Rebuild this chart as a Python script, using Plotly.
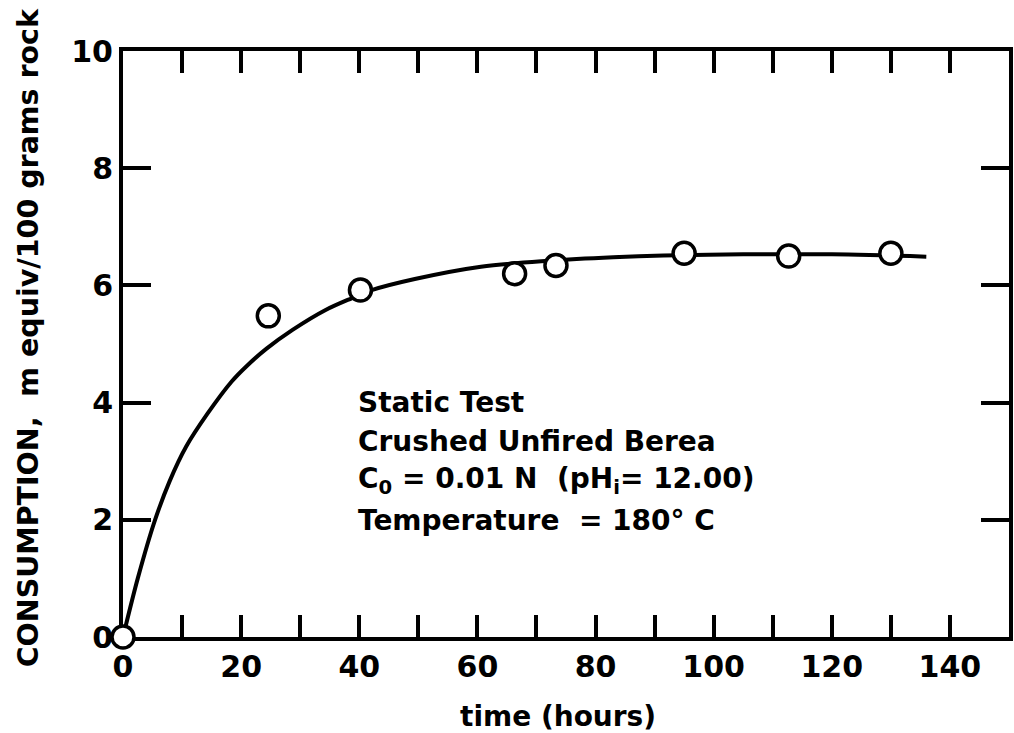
import plotly.graph_objects as go

# measured points (hours, m equiv / 100 g rock)
hours = [0, 24.6, 40.2, 66.3, 73.3, 95, 112.7, 130]
consumption = [0, 5.48, 5.92, 6.20, 6.34, 6.55, 6.50, 6.55]

# hand-drawn fitted curve
curve_hours = [0, 2.5, 5.4, 7.9, 10.7, 14.3, 18.4, 21, 24.3, 28.7, 34.3,
               38.7, 42.1, 49.4, 60.6, 72, 83, 91.5, 105, 120, 136]
curve_values = [0, 1.0, 1.99, 2.66, 3.25, 3.81, 4.36, 4.63, 4.92, 5.24, 5.58,
                5.78, 5.92, 6.11, 6.32, 6.42, 6.48, 6.51, 6.53, 6.53, 6.49]

x_major = [0, 20, 40, 60, 80, 100, 120, 140]
x_minor = [10, 30, 50, 70, 90, 110, 130]
y_ticks = [0, 2, 4, 6, 8, 10]

info_lines = [
    "Static Test",
    "Crushed Unfired Berea",
    "C<sub>0</sub> = 0.01 N  (pH<sub>i</sub>= 12.00)",
    "Temperature  = 180° C",
]
info_y = [4.0, 3.34, 2.67, 1.98]

FONT = "DejaVu Sans"

fig = go.Figure()
fig.add_trace(go.Scatter(
    x=curve_hours, y=curve_values, mode="lines",
    line=dict(color="black", width=4, shape="spline", smoothing=0.9),
    hoverinfo="skip",
))
fig.add_trace(go.Scatter(
    x=hours, y=consumption, mode="markers",
    marker=dict(symbol="circle", size=22, color="white",
                line=dict(color="black", width=3.5)),
    cliponaxis=False,
))

for text, yv in zip(info_lines, info_y):
    fig.add_annotation(
        x=39.4, y=yv, xref="x", yref="y", text=text, showarrow=False,
        xanchor="left", yanchor="middle",
        font=dict(family=FONT, size=28, color="black", weight="bold"),
    )

fig.add_annotation(
    x=-0.107, y=0.51, xref="paper", yref="paper",
    text="CONSUMPTION,  m equiv/100 grams rock", textangle=-90,
    showarrow=False, xanchor="center", yanchor="middle",
    font=dict(family=FONT, size=28.5, color="black", weight="bold"),
)
fig.add_annotation(
    x=0.491, y=-0.135, xref="paper", yref="paper",
    text="time (hours)", showarrow=False, xanchor="center", yanchor="middle",
    font=dict(family=FONT, size=28, color="black", weight="bold"),
)

axis_common = dict(
    showgrid=False, zeroline=False, showline=True, linecolor="black",
    linewidth=4, mirror="allticks", ticks="inside", tickcolor="black",
    tickwidth=4, layer="below traces", ticklabelstandoff=0,
    tickfont=dict(family=FONT, size=30, color="black", weight="bold"),
)

fig.update_xaxes(
    range=[0, 150], tickvals=x_major, ticklen=22,
    minor=dict(tickvals=x_minor, ticks="inside", ticklen=22, tickwidth=4,
               tickcolor="black", showgrid=False),
    **axis_common,
)
fig.update_yaxes(range=[0, 10], tickvals=y_ticks, ticklen=28, **axis_common)

fig.update_layout(
    width=1014, height=733,
    margin=dict(l=123, r=1, t=51, b=96),
    paper_bgcolor="white", plot_bgcolor="white",
    showlegend=False,
)

# drop the default page margin so the figure sits at the window's corner
fig.write_html(
    "out.html",
    config={"displayModeBar": False},
    post_script="document.body.style.margin='0';",
)
